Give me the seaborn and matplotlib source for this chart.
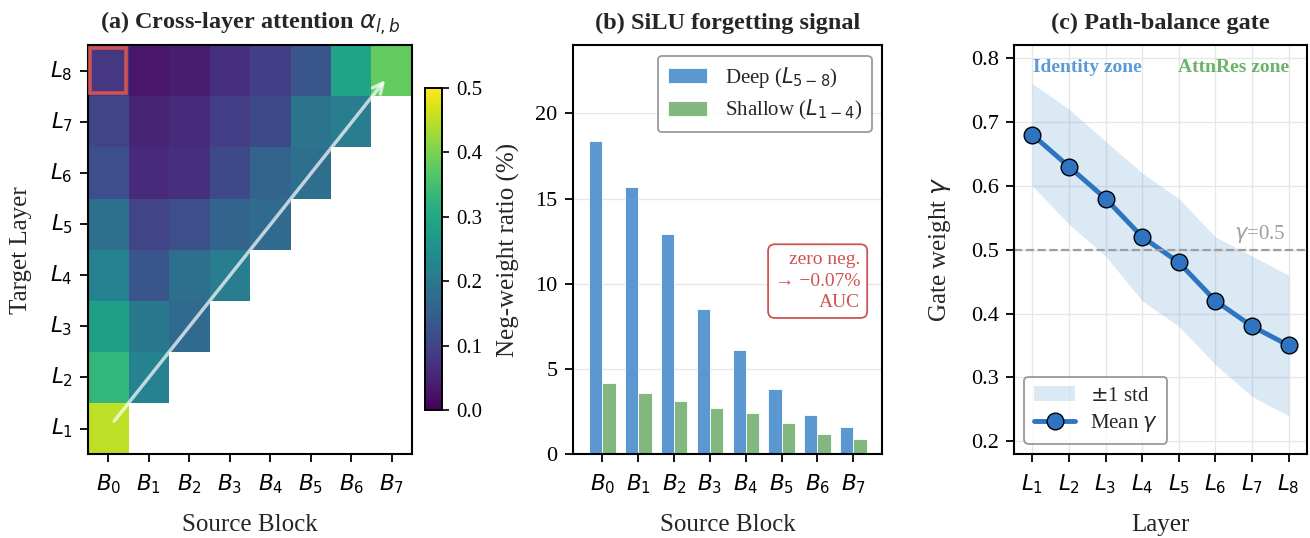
import numpy as np
import pandas as pd
import matplotlib
matplotlib.use("Agg")
import matplotlib.pyplot as plt
from matplotlib.patches import Rectangle, Patch
from matplotlib.lines import Line2D
import seaborn as sns

# ---------------- data ----------------
layers = ["L1", "L2", "L3", "L4", "L5", "L6", "L7", "L8"]
blocks = ["B0", "B1", "B2", "B3", "B4", "B5", "B6", "B7"]
layer_ticks = [r"$L_{%d}$" % i for i in range(1, 9)]
block_ticks = [r"$B_{%d}$" % i for i in range(8)]

# cross-layer attention (row = target layer, only b <= l-1 present)
attn_L1 = [0.45]
attn_L2 = [0.33, 0.22]
attn_L3 = [0.28, 0.20, 0.17]
attn_L4 = [0.22, 0.13, 0.18, 0.21]
attn_L5 = [0.18, 0.10, 0.12, 0.16, 0.17]
attn_L6 = [0.12, 0.06, 0.07, 0.11, 0.16, 0.18]
attn_L7 = [0.10, 0.05, 0.06, 0.09, 0.11, 0.19, 0.21]
attn_L8 = [0.08, 0.03, 0.04, 0.07, 0.09, 0.13, 0.29, 0.38]

deep_ratio = [18.4, 15.7, 12.9, 8.5, 6.1, 3.8, 2.3, 1.6]
shallow_ratio = [4.2, 3.6, 3.1, 2.7, 2.4, 1.8, 1.2, 0.9]

gate_mean = [0.68, 0.63, 0.58, 0.52, 0.48, 0.42, 0.38, 0.35]
gate_upper = [0.76, 0.72, 0.67, 0.62, 0.58, 0.52, 0.49, 0.46]
gate_lower = [0.60, 0.54, 0.49, 0.42, 0.38, 0.32, 0.27, 0.24]

# ---------------- style ----------------
sns.set_theme(style="ticks")
plt.rcParams["font.family"] = ["Liberation Serif", "DejaVu Serif"]
plt.rcParams["mathtext.fontset"] = "dejavusans"
plt.rcParams["axes.edgecolor"] = "black"
plt.rcParams["axes.linewidth"] = 1.5
plt.rcParams["xtick.major.width"] = 1.3
plt.rcParams["ytick.major.width"] = 1.3
plt.rcParams["xtick.major.size"] = 6
plt.rcParams["ytick.major.size"] = 6
plt.rcParams["xtick.major.pad"] = 7
plt.rcParams["ytick.major.pad"] = 5
plt.rcParams["xtick.color"] = "black"
plt.rcParams["ytick.color"] = "black"

TICK = 16
MTICK = 15.5
LAB = 18
TIT = 17.5
XLPAD = 13
YLPAD = 13

fig = plt.figure(figsize=(13.1, 5.38), dpi=100)
ax_a = fig.add_axes([0.0672, 0.156, 0.2473, 0.760])
cax = fig.add_axes([0.3244, 0.2379, 0.013, 0.5985])
ax_b = fig.add_axes([0.4374, 0.156, 0.2359, 0.760])
ax_c = fig.add_axes([0.774, 0.156, 0.2237, 0.760])

# ---------------- (a) heatmap ----------------
rows = [attn_L1, attn_L2, attn_L3, attn_L4, attn_L5, attn_L6, attn_L7, attn_L8]
mat = np.full((len(layers), len(blocks)), np.nan)
for i, r in enumerate(rows):
    mat[i, :len(r)] = r
df_attn = pd.DataFrame(mat, index=layers, columns=blocks)
mask = np.isnan(mat)
sns.heatmap(df_attn, ax=ax_a, cmap="viridis", vmin=0, vmax=0.5, mask=mask,
            cbar_ax=cax, cbar_kws={"ticks": [0, 0.1, 0.2, 0.3, 0.4, 0.5]})
ax_a.invert_yaxis()
ax_a.set_xticks(np.arange(len(blocks)) + 0.5)
ax_a.set_xticklabels(block_ticks, fontsize=MTICK, rotation=0)
ax_a.set_yticks(np.arange(len(layers)) + 0.5)
ax_a.set_yticklabels(layer_ticks, fontsize=MTICK, rotation=0)
ax_a.tick_params(axis="both", which="both", direction="out", length=6, width=1.3,
                 bottom=True, left=True)
for s in ax_a.spines.values():
    s.set_visible(True)
    s.set_linewidth(1.5)
    s.set_color("black")
ax_a.set_xlabel("Source Block", fontsize=LAB, labelpad=XLPAD)
ax_a.set_ylabel("Target Layer", fontsize=LAB, labelpad=YLPAD)
ax_a.set_title(r"(a) Cross-layer attention $\alpha_{l,b}$", fontsize=TIT,
               fontweight="bold", pad=12)
# highlight L8/B0
top = len(layers) - 1
ax_a.add_patch(Rectangle((0.06, top + 0.06), 0.88, 0.88, fill=False,
                         edgecolor="#cd5452", lw=2.6, zorder=5))
ax_a.annotate("", xy=(len(blocks) - 0.62, len(layers) - 0.64), xytext=(0.6, 0.6),
              arrowprops=dict(arrowstyle="->", color="white", alpha=0.7, lw=2.5,
                              mutation_scale=18), zorder=6)
cax.tick_params(labelsize=TICK - 1, length=5, width=1.2, pad=5)
for s in cax.spines.values():
    s.set_visible(True)
    s.set_linewidth(1.2)
cax.set_yticklabels(["0.0", "0.1", "0.2", "0.3", "0.4", "0.5"])

# ---------------- (b) bars ----------------
df_b = pd.DataFrame({
    "block": blocks * 2,
    "ratio": deep_ratio + shallow_ratio,
    "group": [r"Deep ($L_{5-8}$)"] * 8 + [r"Shallow ($L_{1-4}$)"] * 8,
})
sns.barplot(data=df_b, x="block", y="ratio", hue="group", ax=ax_b,
            palette=["#5b97d1", "#82b880"], width=0.74, gap=0.0,
            edgecolor="white", linewidth=0.6, saturation=1)
ax_b.set_xlim(-0.82, 7.8)
ax_b.set_ylim(0, 24)
ax_b.set_yticks([0, 5, 10, 15, 20])
ax_b.set_xticks(range(len(blocks)))
ax_b.set_xticklabels(block_ticks, fontsize=MTICK)
ax_b.tick_params(axis="y", labelsize=TICK)
ax_b.grid(axis="y", color="#e6e6e6", lw=0.9)
ax_b.set_axisbelow(True)
for s in ax_b.spines.values():
    s.set_visible(True)
ax_b.set_xlabel("Source Block", fontsize=LAB, labelpad=XLPAD)
ax_b.set_ylabel("Neg-weight ratio (%)", fontsize=LAB, labelpad=11)
ax_b.set_title("(b) SiLU forgetting signal", fontsize=TIT, fontweight="bold", pad=12)
leg = ax_b.legend(loc="upper right", fontsize=15, frameon=True,
                  fancybox=True, edgecolor="#808080", borderpad=0.45,
                  handlelength=1.9, handletextpad=0.85, labelspacing=0.4)
leg.get_frame().set_linewidth(1.3)
ax_b.text(0.93, 0.423, "zero neg.\n" + "\u2192 \u22120.07%\nAUC", transform=ax_b.transAxes,
          ha="right", va="center", color="#cd5452", fontsize=14,
          multialignment="right", linespacing=1.35,
          bbox=dict(boxstyle="round,pad=0.35", fc="white", ec="#cd5452", lw=1.3))

# ---------------- (c) gate ----------------
x_idx = np.arange(1, len(layers) + 1)
df_c = pd.DataFrame({"layer": x_idx, "gamma": gate_mean})
ax_c.fill_between(x_idx, gate_lower, gate_upper, color="#5b9bd5", alpha=0.22,
                  lw=0, label=r"$\pm$1 std")
sns.lineplot(data=df_c, x="layer", y="gamma", ax=ax_c, color="#2e74c0", lw=3.5,
             marker="o", markersize=12, markerfacecolor="#2e74c0",
             markeredgecolor="black", markeredgewidth=1.0, label=r"Mean $\gamma$")
ax_c.axhline(0.5, color="#9e9e9e", ls="--", lw=1.6)
ax_c.text(7.9, 0.507, r"$\gamma$=0.5", ha="right", va="bottom", color="#9e9e9e",
          fontsize=15)
ax_c.text(2.5, 0.785, "Identity zone", color="#5b9bd5", fontsize=14,
          fontweight="bold", ha="center", va="center")
ax_c.text(6.5, 0.785, "AttnRes zone", color="#6ab36a", fontsize=14,
          fontweight="bold", ha="center", va="center")
ax_c.set_xlim(0.5, 8.5)
ax_c.set_ylim(0.18, 0.82)
ax_c.set_xticks(x_idx)
ax_c.set_xticklabels(layer_ticks, fontsize=MTICK)
ax_c.set_yticks([0.2, 0.3, 0.4, 0.5, 0.6, 0.7, 0.8])
ax_c.tick_params(axis="y", labelsize=TICK)
ax_c.grid(True, color="#e6e6e6", lw=0.9)
ax_c.set_axisbelow(True)
for s in ax_c.spines.values():
    s.set_visible(True)
ax_c.set_xlabel("Layer", fontsize=LAB, labelpad=XLPAD)
ax_c.set_ylabel(r"Gate weight $\gamma$", fontsize=LAB, labelpad=YLPAD)
ax_c.set_title("(c) Path-balance gate", fontsize=TIT, fontweight="bold", pad=12)
h = [Patch(facecolor="#5b9bd5", alpha=0.22, edgecolor="none"),
     Line2D([], [], color="#2e74c0", lw=3.5, marker="o", markersize=12,
            markerfacecolor="#2e74c0", markeredgecolor="black")]
leg_c = ax_c.legend(h, [r"$\pm$1 std", r"Mean $\gamma$"], loc="lower left",
                    fontsize=15, frameon=True, edgecolor="#808080",
                    handlelength=2.0, handletextpad=0.7, borderpad=0.45,
                    labelspacing=0.3)
leg_c.get_frame().set_linewidth(1.3)

fig.savefig("out.png", dpi=100)
